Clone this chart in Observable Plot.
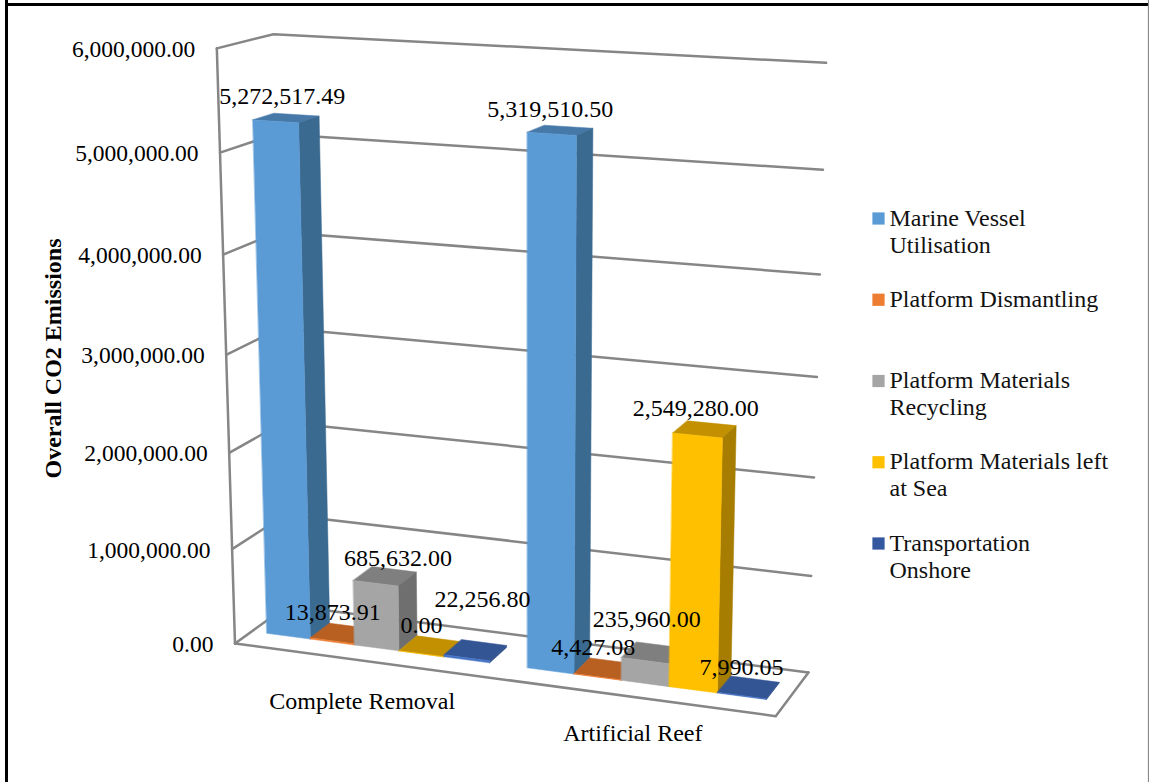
<!DOCTYPE html>
<html>
<head>
<meta charset="utf-8">
<script src="https://cdn.jsdelivr.net/npm/d3@7"></script>
<script src="https://cdn.jsdelivr.net/npm/@observablehq/plot@0.6"></script>
<style>
  html, body { margin: 0; padding: 0; background: #fff; }
  svg { display: block; }
</style>
</head>
<body>
<div id="chart"></div>
<script>
// Chart values
const categories = ["Complete Removal", "Artificial Reef"];
const series = [
  "Marine Vessel Utilisation",
  "Platform Dismantling",
  "Platform Materials Recycling",
  "Platform Materials left at Sea",
  "Transportation Onshore"
];
const completeRemoval = [5272517.49, 13873.91, 685632.0, 0.0, 22256.8];
const artificialReef = [5319510.5, 4427.08, 235960.0, 2549280.0, 7990.05];
const valueTicks = [0, 1000000, 2000000, 3000000, 4000000, 5000000, 6000000];
const legendLabels = [
  "Marine Vessel\nUtilisation",
  "Platform Dismantling",
  "Platform Materials\nRecycling",
  "Platform Materials left\nat Sea",
  "Transportation\nOnshore"
];

// Face shades per series
const frontColors = ["#5B9BD5", "#ED7D31", "#A5A5A5", "#FFC000", "#4472C4"];
const sideColors = ["#3B6A91", "#A8581F", "#6F6F6F", "#A67D00", "#2F4F8A"];
const topColors = ["#4679A8", "#B85F22", "#7F7F7F", "#C29000", "#335593"];
const legendColors = ["#5B9BD5", "#ED7D31", "#A5A5A5", "#FFC000", "#34589F"];

// Box geometry in axis units: u runs along the categories, d into the depth
const VMAX = 6000000;
const clusterStart = [0.03, 0.533];
const barWidth = 0.0865;
const depth0 = 0.31, depth1 = 0.69;

// Reference corners of the box used to calibrate the camera: [u, d, v, px, py]
const calibration = [
  [0, 0, 0, 234.5, 644], [0, 0, 1 / 6, 231, 548], [0, 0, 2 / 6, 228, 451],
  [0, 0, 3 / 6, 225, 353], [0, 0, 4 / 6, 223, 254], [0, 0, 5 / 6, 220, 152],
  [0, 0, 1, 216.7, 50], [0, 1, 1, 272, 33], [0, 1, 0, 289, 606],
  [1, 1, 0, 807, 671], [1, 1, 1 / 6, 810, 576], [1, 1, 2 / 6, 813.5, 477],
  [1, 1, 3 / 6, 816.5, 377], [1, 1, 4 / 6, 819.5, 273], [1, 1, 5 / 6, 823, 170],
  [1, 1, 1, 826, 62], [1, 0, 0, 776, 716]
];

// Least-squares fit of a perspective camera (11 parameters)
function fitCamera(points) {
  const n = 11;
  const A = Array.from({length: n}, () => new Array(n + 1).fill(0));
  const add = (row, rhs) => {
    for (let i = 0; i < n; i++) {
      for (let j = 0; j < n; j++) A[i][j] += row[i] * row[j];
      A[i][n] += row[i] * rhs;
    }
  };
  for (const [u, d, v, px, py] of points) {
    const x = px / 1000, y = py / 1000;
    add([u, d, v, 1, 0, 0, 0, 0, -x * u, -x * d, -x * v], x);
    add([0, 0, 0, 0, u, d, v, 1, -y * u, -y * d, -y * v], y);
  }
  for (let c = 0; c < n; c++) {
    let pivot = c;
    for (let r = c + 1; r < n; r++) if (Math.abs(A[r][c]) > Math.abs(A[pivot][c])) pivot = r;
    [A[c], A[pivot]] = [A[pivot], A[c]];
    for (let r = 0; r < n; r++) {
      if (r === c) continue;
      const f = A[r][c] / A[c][c];
      for (let k = c; k <= n; k++) A[r][k] -= f * A[c][k];
    }
  }
  return A.map((row, i) => row[n] / row[i]);
}
const cam = fitCamera(calibration);
function project(u, d, value) {
  const v = value / VMAX;
  const w = cam[8] * u + cam[9] * d + cam[10] * v + 1;
  return [
    1000 * (cam[0] * u + cam[1] * d + cam[2] * v + cam[3]) / w,
    1000 * (cam[4] * u + cam[5] * d + cam[6] * v + cam[7]) / w
  ];
}

// Polygon helper: one row per vertex, grouped by id
const faces = [];
function addFace(id, color, corners) {
  for (const [u, d, v] of corners) {
    const [x, y] = project(u, d, v);
    faces.push({id, color, x, y});
  }
}
const bars = [];
[completeRemoval, artificialReef].forEach((values, c) => {
  values.forEach((value, s) => {
    const u0 = clusterStart[c] + s * barWidth, u1 = u0 + barWidth;
    bars.push({c, s, value, u0, u1});
    const id = `${c}-${s}`;
    addFace(id + "-top", topColors[s], [[u0, depth0, value], [u1, depth0, value], [u1, depth1, value], [u0, depth1, value]]);
    addFace(id + "-side", sideColors[s], [[u1, depth0, 0], [u1, depth1, 0], [u1, depth1, value], [u1, depth0, value]]);
    addFace(id + "-front", frontColors[s], [[u0, depth0, 0], [u1, depth0, 0], [u1, depth0, value], [u0, depth0, value]]);
  });
});

// Gridlines on the side and back walls, plus the front floor edge
const wallLines = [];
valueTicks.forEach(t => {
  for (const [u, d] of [[0, 0], [0, 1], [1, 1]]) {
    const [x, y] = project(u, d, t);
    wallLines.push({id: "g" + t, x, y});
  }
});
for (const [u, d, v, id] of [
  [0, 0, 0, "axis"], [0, 0, VMAX, "axis"],
  [0, 0, 0, "floor"], [1, 0, 0, "floor"], [1, 1, 0, "floor"]
]) {
  const [x, y] = project(u, d, v);
  wallLines.push({id, x, y});
}

// Value labels sit above each bar; crowded ones get nudged clear of their neighbours
const labelNudge = {
  "0-0": [-4, -1], "1-0": [-10, 0], "0-1": [-9, 0], "1-1": [-12, 0],
  "0-2": [13, 3], "1-2": [-6, -12], "0-3": [-9, 0], "1-3": [-9, 0],
  "0-4": [7, -30], "1-4": [-7, 1]
};
const fmt = d3.format(",.2f");
const valueLabels = bars.map(b => {
  const [x, y] = project((b.u0 + b.u1) / 2, (depth0 + depth1) / 2, b.value);
  const [nx, ny] = labelNudge[`${b.c}-${b.s}`];
  return {text: fmt(b.value), x: x + nx, y: y - 21 + ny};
});

const tickLabels = valueTicks.map(t => {
  const [x, y] = project(0, 0, t);
  return {text: fmt(t), x: x - 21.5, y: y + 1};
});

// Category names hang below the front floor edge
const categoryDrop = [40.5, 36.5];
const categoryLabels = categories.map((name, c) => {
  const [x, y] = project(clusterStart[c] + 2.5 * barWidth, 0, 0);
  return {text: name, x: x + 1 - c, y: y + categoryDrop[c]};
});

const legendRows = series.map((name, i) => ({
  label: legendLabels[i], color: legendColors[i],
  y: 218 + i * 81.25
}));

const FONT = "'Liberation Serif', 'Times New Roman', serif";
const chart = Plot.plot({
  width: 1149,
  height: 782,
  margin: 0,
  style: {background: "#fff", fontFamily: FONT},
  x: {type: "identity", axis: null},
  y: {type: "identity", axis: null},
  marks: [
    // Outer border of the figure
    Plot.ruleX([6], {stroke: "#000", strokeWidth: 3}),
    Plot.ruleY([4], {x1: () => 5, x2: () => 1149, stroke: "#000", strokeWidth: 3}),
    Plot.ruleX([1148.2], {stroke: "#888", strokeWidth: 1.6}),
    Plot.line(wallLines, {x: "x", y: "y", z: "id", stroke: "#868686", strokeWidth: 2.5}),
    Plot.line(faces, {x: "x", y: "y", z: "id", fill: "color", stroke: "color", strokeWidth: 0.5, curve: "linear-closed"}),
    Plot.text(tickLabels, {x: "x", y: "y", text: "text", textAnchor: "end", fontSize: 23.5, fill: "#000"}),
    Plot.text(valueLabels, {x: "x", y: "y", text: "text", fontSize: 24, fill: "#000"}),
    Plot.text(categoryLabels, {x: "x", y: "y", text: "text", fontSize: 24, fill: "#000"}),
    Plot.text(["Overall CO2 Emissions"], {x: () => 53, y: () => 358, text: d => d, rotate: -90, fontSize: 24, fontWeight: "bold", fill: "#000"}),
    Plot.dot(legendRows, {x: () => 878, y: "y", symbol: "square", r: 6.9, fill: "color"}),
    Plot.text(legendRows, {x: () => 889, y: d => d.y - 12, text: "label", textAnchor: "start", lineAnchor: "top", lineHeight: 1.125, fontSize: 24, fill: "#111"})
  ]
});
document.getElementById("chart").appendChild(chart);
</script>
</body>
</html>
